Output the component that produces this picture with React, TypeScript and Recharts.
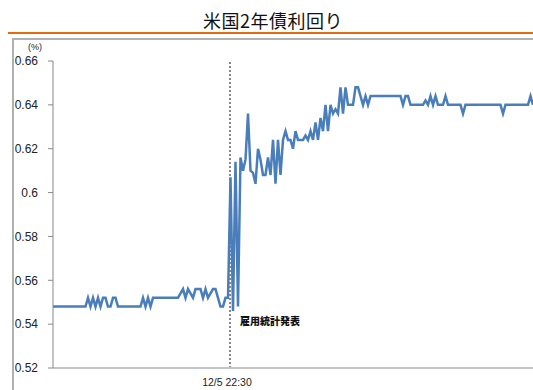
import { LineChart, Line, XAxis, YAxis, ReferenceLine } from "recharts";

// 米国2年債利回り (%), 12/5 の雇用統計発表前後
const yields = [
  0.548, 0.548, 0.548, 0.548, 0.548, 0.548, 0.548, 0.548, 0.548, 0.548,
  0.548, 0.548, 0.548, 0.548, 0.552, 0.548, 0.552, 0.548, 0.552, 0.548,
  0.552, 0.552, 0.548, 0.548, 0.552, 0.552, 0.548, 0.548, 0.548, 0.548,
  0.548, 0.548, 0.548, 0.548, 0.548, 0.548, 0.552, 0.548, 0.552, 0.548,
  0.552, 0.552, 0.552, 0.552, 0.552, 0.552, 0.552, 0.552, 0.552, 0.552,
  0.552, 0.554, 0.556, 0.552, 0.556, 0.554, 0.552, 0.556, 0.556, 0.556,
  0.552, 0.556, 0.552, 0.554, 0.556, 0.556, 0.552, 0.548, 0.548, 0.552,
  0.552, 0.607, 0.546, 0.614, 0.548, 0.616, 0.61, 0.615, 0.636, 0.61,
  0.609, 0.604, 0.62, 0.615, 0.608, 0.608, 0.616, 0.608, 0.624, 0.604,
  0.624, 0.608, 0.624, 0.628, 0.624, 0.624, 0.62, 0.628, 0.624, 0.624,
  0.624, 0.626, 0.624, 0.628, 0.624, 0.632, 0.624, 0.634, 0.628, 0.64,
  0.628, 0.64, 0.636, 0.638, 0.636, 0.648, 0.636, 0.648, 0.64, 0.64,
  0.64, 0.648, 0.648, 0.644, 0.64, 0.644, 0.64, 0.644, 0.644, 0.644,
  0.644, 0.644, 0.644, 0.644, 0.644, 0.644, 0.644, 0.644, 0.644, 0.644,
  0.64, 0.644, 0.644, 0.64, 0.64, 0.64, 0.64, 0.64, 0.64, 0.642,
  0.64, 0.644, 0.64, 0.644, 0.64, 0.64, 0.64, 0.644, 0.64, 0.64,
  0.64, 0.64, 0.64, 0.64, 0.636, 0.64, 0.64, 0.64, 0.64, 0.64,
  0.64, 0.64, 0.64, 0.64, 0.64, 0.64, 0.64, 0.64, 0.64, 0.64,
  0.636, 0.64, 0.64, 0.64, 0.64, 0.64, 0.64, 0.64, 0.64, 0.64,
  0.64, 0.644, 0.64,
];

const yTicks = [0.52, 0.54, 0.56, 0.58, 0.6, 0.62, 0.64, 0.66];
const eventPos = 70.8; // 発表時刻の位置 (データ番号)
const eventTime = "12/5  22:30";
const eventName = "雇用統計発表";
const title = "米国2年債利回り";

const data = yields.map((v, i) => ({ i, v }));

const jp = '"Noto Sans CJK JP", sans-serif';
const num = '"Liberation Sans", Arial, sans-serif';

function EventTick(props: any) {
  const { x, y } = props;
  return (
    <text x={x - 3} y={y + 10} textAnchor="middle" fontSize={10.5} fill="#222" fontFamily={num}>
      {eventTime}
    </text>
  );
}

function EventLabel(props: any) {
  const { viewBox } = props;
  return (
    <text x={viewBox.x + 10} y={325} fontSize={10} fontWeight={900} fill="#111" fontFamily={jp}>
      {eventName}
    </text>
  );
}

export default function App() {
  return (
    <div style={{ position: "absolute", left: 0, top: 0, width: 533, height: 390, background: "#fff", overflow: "hidden" }}>
      <div
        style={{
          position: "absolute", left: 0, width: 546, top: 7, textAlign: "center",
          fontFamily: jp, fontSize: 18, letterSpacing: 0.5, color: "#111", lineHeight: "26px",
        }}
      >
        {title}
      </div>
      <div style={{ position: "absolute", left: 8, top: 32, width: 525, height: 2, background: "#e46c0a" }} />
      <div style={{ position: "absolute", left: 12, top: 38, width: 530, height: 360, borderTop: "2px solid #b0b0b0", borderLeft: "2px solid #b0b0b0" }} />
      <div style={{ position: "absolute", left: 28, top: 42, fontFamily: num, fontSize: 9, color: "#222" }}>(%)</div>
      <div style={{ position: "absolute", left: 0, top: 0 }}>
        <LineChart width={533} height={390} data={data} margin={{ top: 61, right: 0, bottom: 0, left: 0 }}>
          <XAxis
            dataKey="i"
            type="number"
            domain={[0, yields.length - 1]}
            ticks={[eventPos]}
            tick={<EventTick />}
            tickLine={false}
            axisLine={{ stroke: "#c4c4c4", strokeWidth: 2 }}
            height={22}
          />
          <YAxis
            domain={[0.52, 0.66]}
            ticks={yTicks}
            width={53}
            tickSize={5}
            tickMargin={10}
            tickFormatter={(v: number) => String(Number(v.toFixed(2)))}
            tick={{ fontSize: 12, fill: "#222", fontFamily: num }}
            tickLine={{ stroke: "#888" }}
            axisLine={{ stroke: "#888" }}
          />
          <ReferenceLine x={eventPos} stroke="#111" strokeDasharray="2 2" label={<EventLabel />} />
          <Line
            type="linear"
            dataKey="v"
            stroke="#4a7ebb"
            strokeWidth={2.5}
            dot={false}
            isAnimationActive={false}
          />
        </LineChart>
      </div>
    </div>
  );
}
